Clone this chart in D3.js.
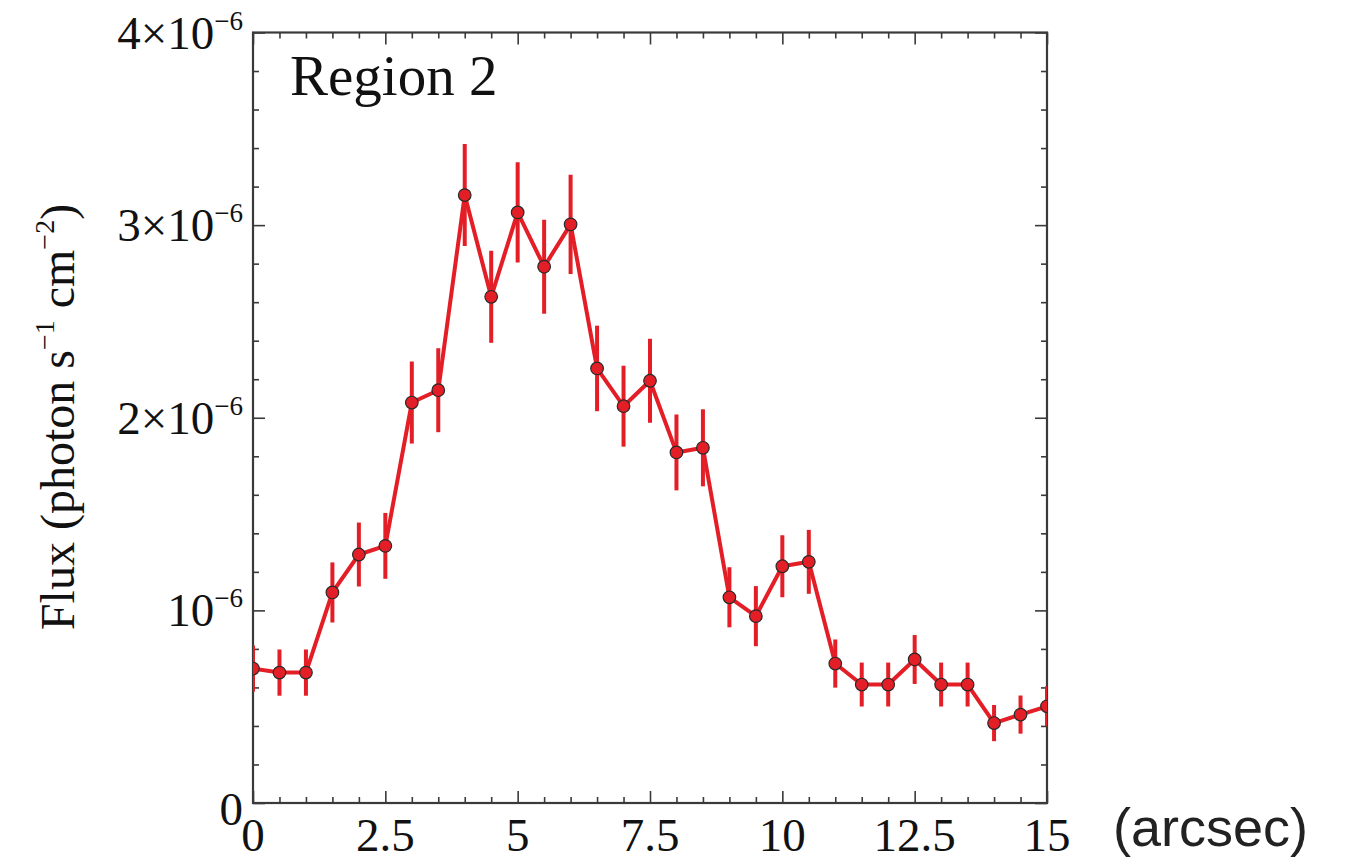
<!DOCTYPE html>
<html>
<head>
<meta charset="utf-8">
<script src="https://cdn.jsdelivr.net/npm/d3@7"></script>
<style>
  html, body { margin: 0; padding: 0; background: #fff; }
  svg { display: block; }
</style>
</head>
<body>
<svg id="chart" width="1345" height="862"></svg>
<script>
// ---- data (flux in units of photon s^-1 cm^-2) ----
const positions = [0, 0.5, 1, 1.5, 2, 2.5, 3, 3.5, 4, 4.5, 5, 5.5, 6, 6.5, 7, 7.5,
                   8, 8.5, 9, 9.5, 10, 10.5, 11, 11.5, 12, 12.5, 13, 13.5, 14, 14.5, 15];
const fluxE6 = [0.698, 0.677, 0.677, 1.093, 1.290, 1.335, 2.079, 2.143, 3.156, 2.628,
                3.066, 2.784, 3.004, 2.256, 2.060, 2.192, 1.820, 1.844, 1.068, 0.970,
                1.229, 1.252, 0.724, 0.615, 0.615, 0.745, 0.615, 0.615, 0.415, 0.459, 0.502];
const errE6 = [0.120, 0.120, 0.120, 0.156, 0.166, 0.171, 0.213, 0.218, 0.265, 0.239,
               0.260, 0.244, 0.258, 0.222, 0.210, 0.218, 0.197, 0.200, 0.156, 0.156,
               0.161, 0.166, 0.125, 0.114, 0.114, 0.127, 0.114, 0.114, 0.094, 0.099, 0.104];
const xMajorTicks = [0, 2.5, 5, 7.5, 10, 12.5, 15];
const xTickLabels = ["0", "2.5", "5", "7.5", "10", "12.5", "15"];
const yMajorTicks = [0, 1e-6, 2e-6, 3e-6, 4e-6];
const yTickMantissa = ["0", "10", "2\u00d710", "3\u00d710", "4\u00d710"];
const yTickExponent = ["", "\u22126", "\u22126", "\u22126", "\u22126"];
const panelTitle = "Region 2";
const xUnit = "(arcsec)";

const data = positions.map((p, i) => ({ x: p, y: fluxE6[i] * 1e-6, e: errE6[i] * 1e-6 }));

// ---- layout ----
const L = 253, R = 1047, T = 32.5, B = 803;
const red = "#e41e26";
const axisColor = "#3a3a3a";
const serif = "'Liberation Serif', 'Times New Roman', serif";

const svg = d3.select("#chart");
const x = d3.scaleLinear().domain([0, 15]).range([L, R]);
const y = d3.scaleLinear().domain([0, 4e-6]).range([B, T]);

const xMinor = d3.range(0, 15.001, 0.5).filter(v => !xMajorTicks.some(m => Math.abs(m - v) < 1e-9));
const yMinor = d3.range(0, 4.0001e-6, 0.2e-6).filter(v => !yMajorTicks.some(m => Math.abs(m - v) < 1e-12));

function styleAxis(g) {
  g.select(".domain").remove();
  g.selectAll(".tick line").attr("stroke", axisColor).attr("stroke-width", 1.6);
  g.selectAll(".tick text").remove();
}

// ticks on all four sides, pointing inward
const axes = [
  [d3.axisBottom(x), `translate(0,${B})`, xMajorTicks, xMinor],
  [d3.axisTop(x), `translate(0,${T})`, xMajorTicks, xMinor],
  [d3.axisLeft(y), `translate(${L},0)`, yMajorTicks, yMinor],
  [d3.axisRight(y), `translate(${R},0)`, yMajorTicks, yMinor]
];
axes.forEach(([ax, tr, major, minor]) => {
  svg.append("g").attr("transform", tr)
    .call(ax.tickValues(major).tickSize(-12).tickFormat(""))
    .call(styleAxis);
  svg.append("g").attr("transform", tr)
    .call(ax.tickValues(minor).tickSize(-6).tickFormat(""))
    .call(styleAxis);
});

// frame
svg.append("rect")
  .attr("x", L).attr("y", T).attr("width", R - L).attr("height", B - T)
  .attr("fill", "none").attr("stroke", axisColor).attr("stroke-width", 2.2);

// clip
svg.append("clipPath").attr("id", "plotclip")
  .append("rect").attr("x", L).attr("y", T).attr("width", R - L).attr("height", B - T);
const plot = svg.append("g").attr("clip-path", "url(#plotclip)");

// error bars
plot.selectAll("line.err").data(data).join("line")
  .attr("class", "err")
  .attr("x1", d => x(d.x)).attr("x2", d => x(d.x))
  .attr("y1", d => y(d.y - d.e)).attr("y2", d => y(d.y + d.e))
  .attr("stroke", red).attr("stroke-width", 4);

// connecting line
plot.append("path").datum(data)
  .attr("d", d3.line().x(d => x(d.x)).y(d => y(d.y)))
  .attr("fill", "none").attr("stroke", red).attr("stroke-width", 4)
  .attr("stroke-linejoin", "round");

// markers
plot.selectAll("circle").data(data).join("circle")
  .attr("cx", d => x(d.x)).attr("cy", d => y(d.y)).attr("r", 6.3)
  .attr("fill", red).attr("stroke", "#2a2a2a").attr("stroke-width", 1.2);

// x tick labels
svg.append("g").selectAll("text").data(xMajorTicks).join("text")
  .attr("x", d => x(d)).attr("y", 851)
  .attr("text-anchor", "middle")
  .attr("font-family", serif).attr("font-size", 47).attr("fill", "#111")
  .text((d, i) => xTickLabels[i]);

// y tick labels with superscripts
const yl = svg.append("g").selectAll("text").data(yMajorTicks).join("text")
  .attr("x", 243)
  .attr("y", d => d === 0 ? y(d) + 22 : y(d) + 16)
  .attr("text-anchor", "end")
  .attr("font-family", serif).attr("fill", "#111");
yl.append("tspan").attr("font-size", 47).text((d, i) => yTickMantissa[i]);
yl.append("tspan").attr("font-size", 27).attr("dy", -19).text((d, i) => yTickExponent[i]);

// y-axis title
const yt = svg.append("text")
  .attr("transform", `translate(74,${417}) rotate(-90)`)
  .attr("text-anchor", "middle")
  .attr("font-family", serif).attr("font-size", 48).attr("fill", "#111");
yt.append("tspan").text("Flux (photon s");
yt.append("tspan").attr("font-size", 28).attr("dy", -20).text("\u22121");
yt.append("tspan").attr("dy", 20).text(" cm");
yt.append("tspan").attr("font-size", 28).attr("dy", -20).text("\u22122");
yt.append("tspan").attr("dy", 20).text(")");

// panel title
svg.append("text")
  .attr("x", 290).attr("y", 95)
  .attr("font-family", serif).attr("font-size", 57).attr("fill", "#111")
  .text(panelTitle);

// x unit
svg.append("text")
  .attr("x", 1113).attr("y", 846)
  .attr("font-family", "'Liberation Sans', Arial, sans-serif")
  .attr("font-size", 54).attr("fill", "#222")
  .text(xUnit);
</script>
</body>
</html>
